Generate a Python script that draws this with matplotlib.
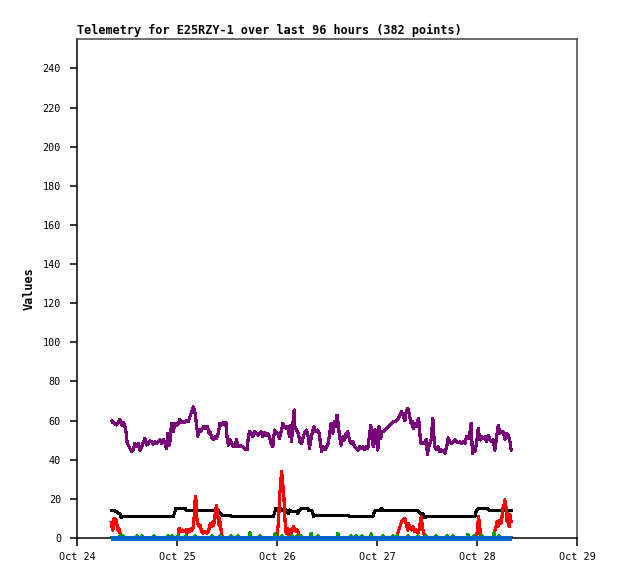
import matplotlib
matplotlib.use("Agg")
import matplotlib.pyplot as plt

# ---------------- data (hours since Oct 24 00:00) ----------------
purple_hours = [
    8.3, 8.7, 9.1, 9.5, 9.9, 10.3, 10.7, 11.1, 11.5, 11.8, 12.0, 12.3, 12.7, 13.1, 13.5, 13.9, 14.3, 14.7, 15.1, 15.5,
    15.9, 16.3, 16.7, 17.1, 17.5, 17.9, 18.3, 18.7, 19.1, 19.5, 19.9, 20.3, 20.7, 21.1, 21.5, 21.8, 22.1, 22.3, 22.7, 23.1,
    23.5, 23.9, 24.3, 24.7, 25.1, 25.5, 25.9, 26.3, 26.7, 27.1, 27.5, 27.9, 28.2, 28.5, 28.8, 29.0, 29.3, 29.7, 30.1, 30.5,
    30.9, 31.3, 31.7,
    31.9, 32.3, 32.7, 33.1, 33.5, 33.9, 34.3, 34.7, 35.1, 35.5, 35.8, 36.0, 36.3, 36.7, 37.1, 37.5, 37.9, 38.3, 38.6, 38.9,
    39.3, 39.7, 40.1, 40.5, 40.9, 41.1, 41.4, 41.8, 42.2, 42.6, 43.0, 43.4, 43.8, 44.2, 44.6, 45.0, 45.4, 45.8, 46.2, 46.6,
    47.0, 47.4, 47.8, 48.2, 48.6, 49.0, 49.4, 49.8, 50.2, 50.6, 51.0, 51.2, 51.5, 51.8, 52.1, 52.3, 52.7, 53.1, 53.5, 53.9,
    54.3, 54.7,
    55.1, 55.5, 55.8, 56.2, 56.5, 56.9, 57.3, 57.7, 58.1, 58.4, 58.7, 59.1, 59.5, 59.9, 60.3, 60.7, 61.0, 61.4, 61.8, 62.1,
    62.4, 62.7, 63.0, 63.4, 63.8, 64.2, 64.6, 65.0, 65.4, 65.8, 66.2, 66.6, 67.0, 67.4, 67.8, 68.2, 68.6, 69.0, 69.4, 69.8,
    70.2, 70.5, 70.8, 71.1, 71.5, 71.8, 72.2, 72.5, 72.9, 73.1, 73.5, 73.9, 74.3, 74.7, 75.1, 75.5, 75.9, 76.3, 76.7, 77.1,
    77.5, 77.9, 78.3, 78.7, 79.0, 79.3,
    79.5, 79.8, 80.2, 80.5, 80.7, 81.1, 81.5, 81.9, 82.2, 82.4, 82.7, 83.1, 83.5, 83.8, 84.1, 84.5, 85.0, 85.1, 85.4, 85.6,
    85.9, 86.3, 86.7, 87.1, 87.5, 87.9, 88.3, 88.7, 89.1, 89.5, 89.9, 90.3, 90.7, 91.1, 91.5, 91.9, 92.3, 92.7, 93.1, 93.5,
    93.9, 94.3, 94.6, 94.9, 95.3, 95.5, 95.9, 96.3, 96.7, 97.1, 97.5, 97.9, 98.3, 98.7, 99.1, 99.5, 99.9, 100.3, 100.7, 101.1,
    101.5, 101.9, 102.3, 102.7, 103.1, 103.5, 103.9, 104.2,
]
purple_values = [
    59.8, 58.9, 58.6, 57.7, 58.9, 60.6, 57.7, 59.0, 57.2, 53.5, 49.2, 47.5, 45.8, 44.1, 45.3, 48.4, 47.0, 48.4, 44.9, 46.6,
    48.7, 50.9, 47.5, 48.4, 49.7, 49.2, 47.9, 49.2, 48.4, 49.2, 50.1, 48.1, 50.4, 48.4, 45.8, 53.5, 47.5, 49.2, 58.6, 54.3,
    58.6, 57.7, 58.3, 60.6, 59.0, 59.4, 59.0, 60.0, 59.4, 62.0, 64.5, 67.1, 65.4, 61.2, 56.0, 52.1, 55.2, 54.3, 56.0, 57.2,
    56.0, 56.9, 53.5,
    54.3, 51.7, 50.1, 51.7, 50.9, 53.5, 58.6, 57.7, 59.0, 57.7, 59.0, 51.7, 47.5, 50.1, 48.4, 46.6, 47.0, 50.4, 46.6, 47.5,
    47.0, 46.6, 45.8, 45.3, 45.3, 51.7, 54.3, 53.5, 51.7, 54.3, 53.5, 52.6, 53.5, 54.3, 51.7, 53.8, 52.6, 53.5, 51.7, 48.4,
    46.6, 55.2, 54.3, 53.5, 50.9, 54.3, 58.6, 56.9, 56.0, 57.2, 51.7, 57.7, 49.2, 58.3, 65.4, 56.9, 55.2, 53.5, 49.2, 48.4,
    51.7, 54.3,
    55.2, 51.7, 45.8, 50.9, 54.3, 56.9, 54.3, 55.2, 53.5, 49.2, 44.1, 46.6, 45.0, 46.6, 48.4, 54.3, 58.6, 53.5, 59.4, 56.9,
    62.8, 58.6, 51.7, 47.5, 51.7, 50.1, 53.5, 54.3, 50.1, 48.4, 49.2, 46.6, 45.8, 45.0, 46.6, 45.8, 46.6, 45.0, 47.0, 45.8,
    52.6, 57.7, 50.9, 46.6, 55.2, 51.7, 45.0, 56.9, 50.9, 54.3, 54.3, 55.2, 56.0, 56.9, 57.7, 58.6, 59.4, 59.4, 60.3, 61.2,
    62.8, 64.5, 62.8, 59.9, 64.5, 66.2,
    65.7, 62.8, 58.6, 59.4, 56.0, 58.3, 56.9, 61.2, 57.7, 49.2, 48.4, 48.7, 48.4, 50.4, 42.7, 47.5, 50.1, 53.5, 61.2, 53.5,
    46.6, 45.0, 46.6, 44.1, 45.0, 44.1, 43.3, 46.6, 51.2, 48.7, 48.4, 49.2, 50.1, 49.2, 48.7, 49.2, 48.4, 49.2, 48.4, 51.7,
    50.9, 53.5, 58.6, 43.3, 46.6, 44.1, 48.4, 56.0, 50.1, 51.7, 50.9, 51.7, 49.2, 52.6, 50.1, 49.2, 50.1, 45.0, 51.7, 57.7,
    53.5, 54.3, 54.3, 50.4, 53.5, 52.6, 49.2, 45.0,
]

black_hours = [8.2, 9.1, 9.4, 9.9, 10.3, 10.6, 10.8, 11.0, 23.1, 23.4, 23.7, 26.1, 26.2, 33.9, 34.3, 34.7, 36.7, 37.0,
               47.1, 47.4, 47.7, 49.0, 49.1, 50.2, 50.7, 51.1, 51.6, 52.6, 53.0, 53.2, 54.0, 55.4, 55.6, 56.4, 56.8,
               57.1, 65.0, 65.3, 71.0, 71.5, 72.7, 73.1, 73.4, 81.8, 82.3, 83.0, 83.5, 84.0, 95.5, 95.8, 96.2, 98.6,
               99.0, 104.2]
black_values = [14.0, 14.0, 13.5, 12.6, 12.6, 10.5, 10.5, 11.0, 11.0, 12.6, 15.0, 15.0, 14.0, 14.0, 12.6, 11.7, 11.7, 11.0,
                11.0, 12.6, 15.0, 15.0, 14.0, 14.3, 12.6, 14.3, 13.5, 13.5, 12.6, 14.0, 15.0, 15.0, 14.0, 14.0, 11.0,
                11.7, 11.7, 11.0, 11.0, 14.0, 14.0, 15.0, 14.0, 14.0, 12.6, 12.6, 10.4, 11.0, 11.0, 13.5, 15.0, 15.0,
                14.0, 14.0]

red_hours = [8.2, 8.4, 8.6, 8.9, 9.1, 9.4, 9.6, 9.8, 10.1, 10.3, 10.6, 10.8,
             24.2, 24.5, 24.8, 25.1, 25.4, 25.8, 26.1, 26.4, 26.7, 27.0, 27.4, 27.7, 28.0, 28.2, 28.4, 28.6, 28.8,
             29.0, 29.3, 29.5, 29.8, 30.0, 30.2, 30.6, 30.9, 31.2, 31.5, 31.8, 32.1, 32.3, 32.6, 32.8, 33.0, 33.3,
             33.5, 33.8, 34.0, 34.2, 34.5, 34.7, 35.0,
             47.9, 48.2, 48.4, 48.6, 48.9, 49.1, 49.4, 49.6, 49.8, 50.0, 50.2, 50.5, 50.7, 51.0, 51.2, 51.4, 51.7,
             51.9, 52.2, 52.4, 52.6, 52.9, 53.1, 53.4,
             76.6, 76.7, 77.1, 77.5, 77.9, 78.3, 78.7, 79.1, 79.4, 79.6, 79.9, 80.3, 80.7, 81.1, 81.5, 81.9, 82.3,
             82.6, 82.8, 83.1, 83.5, 83.8,
             95.9, 96.2, 96.4, 96.6, 96.9, 97.1,
             99.9, 100.2, 100.6, 100.8, 101.0, 101.3, 101.5, 101.8, 102.0, 102.2, 102.5, 102.7, 102.96, 103.2, 103.4,
             103.7, 103.9, 104.2]
red_values = [8.0, 5.8, 4.1, 10.0, 8.3, 9.2, 6.6, 4.1, 4.9, 2.4, 1.5, 0.0,
              0.0, 4.9, 4.1, 3.2, 4.1, 3.2, 4.1, 2.4, 4.1, 3.2, 4.9, 4.1, 6.6, 14.6, 21.4, 18.6, 9.2,
              7.5, 5.8, 6.6, 4.1, 3.2, 2.4, 3.2, 3.2, 2.4, 3.2, 5.8, 7.5, 5.8, 8.3, 6.6, 10.0, 14.6,
              16.7, 11.6, 6.6, 10.0, 5.8, 1.5, 0.0,
              0.0, 4.9, 10.0, 20.3, 28.8, 34.2, 27.1, 23.7, 13.4, 6.6, 2.4, 4.9, 1.5, 3.2, 4.1, 2.4, 4.1,
              5.8, 4.9, 4.1, 3.2, 4.1, 2.4, 0.0,
              0.0, 0.7, 3.2, 5.8, 8.3, 9.5, 10.0, 6.6, 4.1, 7.5, 4.9, 4.1, 5.8, 3.2, 4.1, 2.4, 6.6,
              10.9, 7.5, 3.2, 0.7, 0.0,
              0.0, 7.5, 11.2, 5.8, 2.4, 0.0,
              0.0, 3.2, 5.8, 8.3, 5.8, 7.5, 9.2, 7.5, 10.9, 15.2, 16.9, 19.4, 16.0, 8.3, 12.6,
              5.8, 11.9, 8.3]

green_hours = [8.2, 10.0, 10.3, 10.6, 10.9, 11.0, 11.2, 14.2, 14.4, 14.6, 15.4, 15.6, 15.8, 18.3, 18.5, 18.7,
               21.6, 21.8, 22.0, 22.6, 22.8, 23.0, 24.0, 24.2, 24.4, 26.0, 26.2, 26.4, 28.1, 28.3, 28.5,
               32.2, 32.4, 32.6, 34.1, 34.3, 34.5, 36.8, 37.0, 37.2, 38.4, 38.6, 38.8, 41.3, 41.5, 41.7,
               43.7, 43.9, 44.1, 47.3, 47.5, 47.7, 49.0, 49.2, 49.4, 51.4, 51.6, 51.8, 52.6, 52.8, 53.0,
               53.6, 53.8, 54.0, 56.0, 56.2, 56.4, 57.6, 57.8, 58.0, 62.4, 62.6, 62.8, 65.6, 65.8, 66.0,
               66.8, 67.0, 67.2, 68.2, 68.4, 68.6, 70.4, 70.6, 70.8, 73.2, 73.4, 73.6, 75.6, 75.8, 76.0,
               76.6, 76.8, 77.0, 79.2, 79.4, 79.6, 81.6, 81.8, 82.0, 83.6, 83.8, 84.0, 86.0, 86.2, 86.4,
               88.6, 88.8, 89.0, 90.0, 90.2, 90.4, 93.6, 93.8, 94.0, 95.1, 95.3, 95.5, 97.0, 97.2, 97.4,
               99.9, 100.1, 100.3, 101.1, 101.3, 101.5, 104.2]
green_values = [0, 0, 1.2, 0, 0, 1.2, 0, 0, 1.2, 0, 0, 1.2, 0, 0, 1.2, 0,
                0, 1.2, 0, 0, 1.2, 0, 0, 1.2, 0, 0, 1.2, 0, 0, 1.2, 0,
                0, 1.2, 0, 0, 1.2, 0, 0, 1.2, 0, 0, 1.2, 0, 0, 2.6, 0,
                0, 1.2, 0, 0, 2.1, 0, 0, 1.2, 0, 0, 1.2, 0, 0, 1.2, 0,
                0, 1.2, 0, 0, 2.4, 0, 0, 1.2, 0, 0, 2.4, 0, 0, 1.2, 0,
                0, 1.2, 0, 0, 1.2, 0, 0, 2.1, 0, 0, 1.2, 0, 0, 1.2, 0,
                0, 1.2, 0, 0, 1.2, 0, 0, 1.2, 0, 0, 1.2, 0, 0, 1.2, 0,
                0, 1.2, 0, 0, 1.2, 0, 0, 1.9, 0, 0, 1.2, 0, 0, 1.2, 0,
                0, 3.0, 0, 0, 1.2, 0, 0]

blue_hours = [8.2, 104.2]
blue_values = [0.0, 0.0]

x_tick_hours = [0, 24, 48, 72, 96, 120]
x_tick_labels = ["Oct 24", "Oct 25", "Oct 26", "Oct 27", "Oct 28", "Oct 29"]
y_ticks = [0, 20, 40, 60, 80, 100, 120, 140, 160, 180, 200, 220, 240]

title_text = "Telemetry for E25RZY-1 over last 96 hours (382 points)"
ylabel_text = "Values"

# ---------------- figure ----------------
fig = plt.figure(figsize=(6.18, 5.79), dpi=100)
ax = fig.add_axes([77 / 618, 41 / 579, 500 / 618, 499.5 / 579])

lw = 1.55
ax.plot(purple_hours, purple_values, color="#780078", lw=lw, antialiased=False)
ax.plot(black_hours, black_values, color="#000000", lw=lw, antialiased=False)
ax.plot(red_hours, red_values, color="#ff0000", lw=lw, antialiased=False)
ax.plot(green_hours, green_values, color="#00a000", lw=lw, antialiased=False)
ax.plot(blue_hours, blue_values, color="#0066cc", lw=2.2, antialiased=False,
        clip_on=False, zorder=5, solid_capstyle="butt")

ax.set_xlim(0, 120)
ax.set_ylim(0, 255.3)
ax.set_xticks(x_tick_hours)
ax.set_xticklabels(x_tick_labels)
ax.set_yticks(y_ticks)

mono = "DejaVu Sans Mono"
for lab in ax.get_xticklabels() + ax.get_yticklabels():
    lab.set_fontfamily(mono)
    lab.set_fontsize(7.3)

ax.tick_params(axis="y", direction="out", length=5, width=1.1, pad=6.5, colors="black")
ax.tick_params(axis="x", direction="out", length=5.8, width=1.1, pad=4.5, colors="black")

for side in ("left", "bottom"):
    ax.spines[side].set_color("black")
    ax.spines[side].set_linewidth(1.1)
for side in ("top", "right"):
    ax.spines[side].set_color("#444444")
    ax.spines[side].set_linewidth(1.1)

ax.set_title(title_text, loc="left", fontfamily=mono, fontweight="bold", fontsize=8.45, pad=3)
ax.set_ylabel(ylabel_text, fontfamily=mono, fontweight="bold", fontsize=8.6, labelpad=5)

fig.savefig("out.png", dpi=100)
